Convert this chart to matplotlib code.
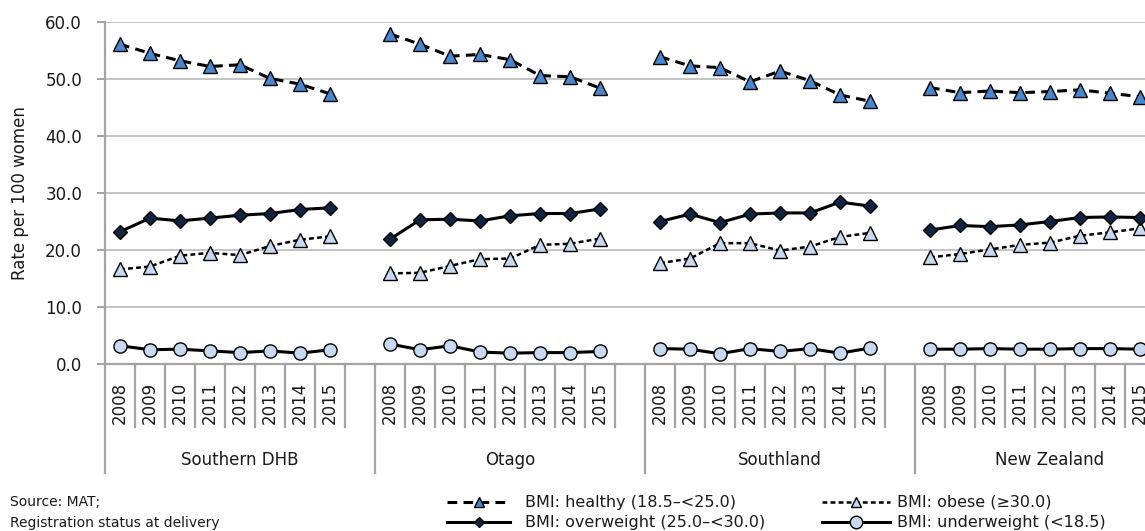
import matplotlib
matplotlib.use("Agg")
import matplotlib.pyplot as plt
import matplotlib.transforms as mtransforms
from matplotlib.lines import Line2D
import numpy as np

plt.rcParams['font.family'] = ['DejaVu Sans']
plt.rcParams['lines.scale_dashes'] = False

W, H = 1145, 531

# ---------------- data ----------------
groups = ["Southern DHB", "Otago", "Southland", "New Zealand"]
years = ["2008", "2009", "2010", "2011", "2012", "2013", "2014", "2015"]

healthy = [
    [56.1, 54.5, 53.2, 52.2, 52.5, 50.1, 49.1, 47.4],
    [57.9, 56.1, 54.0, 54.3, 53.4, 50.6, 50.4, 48.4],
    [53.9, 52.3, 52.0, 49.5, 51.4, 49.7, 47.2, 46.1],
    [48.5, 47.6, 47.9, 47.6, 47.8, 48.1, 47.5, 46.9],
]
overweight = [
    [23.2, 25.6, 25.1, 25.6, 26.1, 26.4, 27.1, 27.4],
    [21.9, 25.3, 25.4, 25.1, 26.0, 26.4, 26.4, 27.2],
    [25.0, 26.3, 24.8, 26.3, 26.5, 26.5, 28.4, 27.7],
    [23.5, 24.3, 24.1, 24.4, 25.0, 25.7, 25.8, 25.7],
]
obese = [
    [16.6, 17.1, 19.0, 19.5, 19.1, 20.7, 21.8, 22.4],
    [15.9, 16.0, 17.2, 18.4, 18.5, 20.9, 21.1, 22.0],
    [17.7, 18.5, 21.2, 21.2, 19.9, 20.6, 22.3, 23.0],
    [18.7, 19.3, 20.1, 20.9, 21.3, 22.5, 23.1, 23.8],
]
underweight = [
    [3.2, 2.5, 2.6, 2.3, 2.0, 2.3, 1.9, 2.5],
    [3.5, 2.5, 3.2, 2.1, 1.9, 2.0, 2.0, 2.2],
    [2.7, 2.6, 1.8, 2.7, 2.2, 2.7, 1.9, 2.8],
    [2.6, 2.6, 2.7, 2.6, 2.6, 2.7, 2.7, 2.6],
]
series_labels = ["BMI: healthy (18.5\u2013<25.0)", "BMI: overweight (25.0\u2013<30.0)",
                 "BMI: obese (\u226530.0)", "BMI: underweight (<18.5)"]
source_lines = ["Source: MAT;", "Registration status at delivery"]
ylabel = "Rate per 100 women"
yticks = [0, 10, 20, 30, 40, 50, 60]

# ---------------- styles ----------------
C_HEALTHY = '#4A86CE'
C_LIGHT = '#C6D9F1'
C_NAVY = '#10243F'
GRID = '#C4C4C4'
SPINE = '#A3A3A3'
TXT = '#1a1a1a'

nslot = len(years) + 1


def flatten(vals):
    xs, ys = [], []
    for g, v in enumerate(vals):
        for i, val in enumerate(v):
            xs.append(g * nslot + i)
            ys.append(val)
        xs.append(g * nslot + len(v))
        ys.append(np.nan)
    return np.array(xs, float), np.array(ys, float)


def fx(px):
    return px / W


def fy(py):
    return 1 - py / H


fig = plt.figure(figsize=(W / 100, H / 100), dpi=100)
ax = fig.add_axes([fx(105), fy(364), 1080 / W, 342 / H])

styles = {
    'healthy': dict(color='black', lw=2.2, dashes=(7, 4.5), marker='^', ms=10,
                    mfc=C_HEALTHY, mec='black', mew=1.0),
    'overweight': dict(color='black', lw=2.2, ls='-', marker='D', ms=7.2,
                       mfc=C_NAVY, mec='black', mew=1.0),
    'obese': dict(color='black', lw=1.8, dashes=(3.5, 2.3), marker='^', ms=10,
                  mfc=C_LIGHT, mec='black', mew=1.0),
    'underweight': dict(color='black', lw=2.2, ls='-', marker='o', ms=9.5,
                        mfc=C_LIGHT, mec='black', mew=1.0),
}

for name, vals, z in [('underweight', underweight, 3), ('obese', obese, 4),
                      ('overweight', overweight, 5), ('healthy', healthy, 6)]:
    x, y = flatten(vals)
    ax.plot(x, y, zorder=z, clip_on=False, **styles[name])

ax.set_xlim(-0.5, len(groups) * nslot - 0.5)
ax.set_ylim(0, 60)
ax.set_yticks(yticks)
ax.set_yticklabels([f"{t:.1f}" for t in yticks], fontsize=12)
ax.set_xticks([])
ax.grid(axis='y', color=GRID, lw=1.4)
ax.set_axisbelow(True)
for s in ['top', 'right']:
    ax.spines[s].set_visible(False)
for s in ['left', 'bottom']:
    ax.spines[s].set_color(SPINE)
    ax.spines[s].set_linewidth(1.6)
ax.tick_params(axis='y', length=5.5, width=1.4, color=SPINE, pad=11, labelcolor=TXT)

fig.text(fx(20), fy(193), ylabel, rotation=90, ha='center', va='center', fontsize=12, color=TXT)

# category axis separators and labels
trans = mtransforms.blended_transform_factory(ax.transData, fig.transFigure)
for j in range(len(groups) * nslot + 1):
    xb = -0.5 + j
    yend = 473 if j % nslot == 0 else 427
    fig.add_artist(Line2D([xb, xb], [fy(364), fy(yend)], transform=trans,
                          color=SPINE, lw=1.6))
for g, gname in enumerate(groups):
    for i, yr in enumerate(years):
        fig.text(g * nslot + i, fy(402.5), yr, transform=trans, rotation=90,
                 ha='center', va='center', fontsize=12, color=TXT)
    fig.text(g * nslot + (nslot - 1) / 2, fy(460), gname, transform=trans,
             ha='center', va='center', fontsize=12, color=TXT)

# source text
fig.text(fx(10), fy(502), source_lines[0], ha='left', va='center', fontsize=10, color=TXT)
fig.text(fx(10), fy(523), source_lines[1], ha='left', va='center', fontsize=10, color=TXT)

# legend (manual)
leg_items = [
    ('healthy', 447, 510, 525, 502, 7),
    ('overweight', 447, 510, 525, 522, 5.5),
    ('obese', 822, 890, 897, 502, 7),
    ('underweight', 822, 890, 897, 522, 9),
]
for (name, x0, x1, tx, yy, ms), lab in zip(leg_items, series_labels):
    st = styles[name]
    line_kw = {k: v for k, v in st.items() if k in ('color', 'lw', 'ls', 'dashes')}
    fig.add_artist(Line2D([fx(x0), fx(x1)], [fy(yy), fy(yy)], transform=fig.transFigure, **line_kw))
    fig.add_artist(Line2D([fx((x0 + x1) / 2)], [fy(yy)], transform=fig.transFigure,
                          ls='none', marker=st['marker'], ms=ms, mfc=st['mfc'],
                          mec='black', mew=1.0))
    fig.text(fx(tx), fy(yy), lab, ha='left', va='center', fontsize=11.5, color=TXT)

fig.savefig("out.png", dpi=100)
